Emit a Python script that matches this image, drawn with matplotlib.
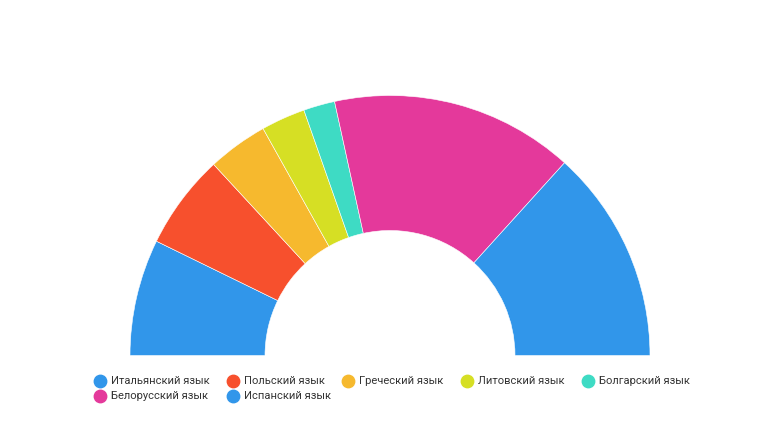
import matplotlib
matplotlib.use("Agg")
from matplotlib import pyplot as plt

languages = ['Итальянский язык', 'Польский язык', 'Греческий язык', 'Литовский язык',
             'Болгарский язык', 'Белорусский язык', 'Испанский язык']
shares = [14.5, 11.8, 7.5, 5.5, 3.9, 30.3, 26.6]
colors = ['#3196EA', '#F7502D', '#F6B92E', '#D6DF24', '#3EDBC4', '#E4399B', '#3196EA']

W, H = 771, 447
fig = plt.figure(figsize=(W / 100, H / 100), dpi=100)
ax = fig.add_axes([0, 0, 1, 1])

# Half donut: add an invisible slice of equal size for the bottom half
wedges, _ = ax.pie(shares + [sum(shares)], colors=colors + ['white'],
                   startangle=180, counterclock=False,
                   center=(390, H - 355.5), radius=260,
                   wedgeprops=dict(width=135, edgecolor='white', linewidth=0.4))
wedges[-1].set_visible(False)

ax.set_xlim(0, W)
ax.set_ylim(0, H)
ax.set_aspect('equal')
ax.axis('off')

# Legend, laid out row by row like the original
colX = [100, 233, 348, 467, 588]
rowY = [381, 396]
for i, (name, color) in enumerate(zip(languages, colors)):
    x = colX[i % 5]
    y = H - rowY[i // 5]
    ax.scatter([x], [y], s=80, color=color, zorder=5, clip_on=False)
    ax.text(x + 11, y, name, va='center', ha='left', fontsize=8,
            color='#333333', family=['Roboto', 'DejaVu Sans'])

fig.savefig('out.png', dpi=100, facecolor='white')
